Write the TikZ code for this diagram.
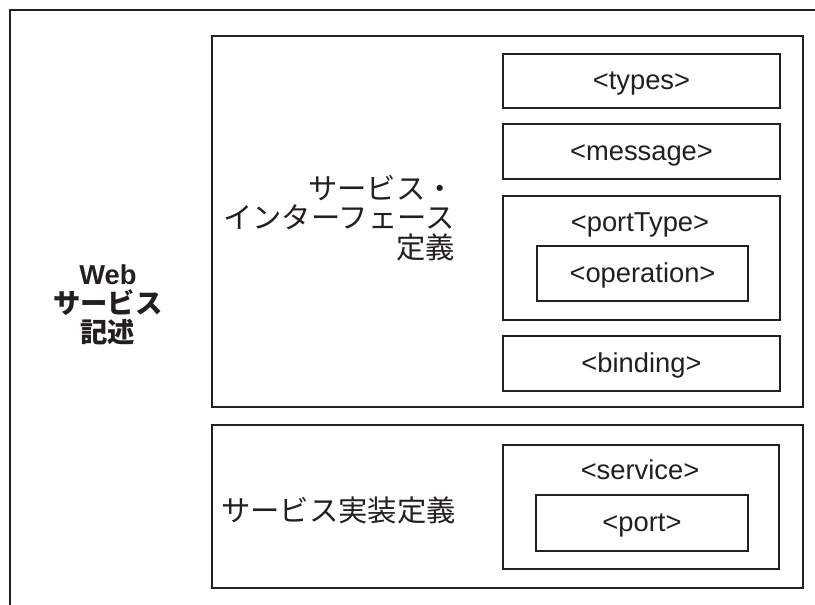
\documentclass[tikz,border=0pt]{standalone}
\usepackage{fontspec}
\setmainfont{Liberation Sans}
\newfontfamily\jpfont{Noto Sans CJK JP}
\usepackage{tikz}
\usetikzlibrary{fit}
\definecolor{inkc}{HTML}{231F20}
\newcommand\tightlines{\lineskiplimit=-20pt\relax}
\tikzset{%
	frame/.style={
		draw=inkc,
		line width=1.3pt,
		inner sep=0pt
	},
	tag/.style={
		text=inkc,
		inner sep=0pt,
		text height=13pt,
		text depth=0pt,
		font=\fontsize{20.5}{24}\selectfont
	},
	jplabel/.style={
		text=inkc,
		inner sep=0pt,
		font=\jpfont\fontsize{22}{22}\selectfont\tightlines
	},
}

\begin{document}
\begin{tikzpicture}[x=0.75pt, y=-0.75pt]
			\useasboundingbox (0,0) rectangle (815,605);
			
			% Outer frame (cut off at right and bottom)
			\draw[frame] (10,605) -- (10,10) -- (815,10);
			\node[text=inkc, align=center, inner sep=0pt, font=\bfseries\fontsize{20.5}{21.8}\selectfont\tightlines] (websvc) at (108,305) {Web\\{\jpfont サービス}\\{\jpfont 記述}};
			
			% Interface definition part
			\node[frame, fit={(212,36) (803,407)}] (ifdef) {};
			\node[jplabel, align=right, anchor=east] (ifdeflbl) at (455,218) {サービス・\\インターフェース\\定義};
			\node[frame, fit={(503,54) (780,108)}] (types) {};
			\node[tag] (typeslbl) at (types.center) {<types>};
			\node[frame, fit={(503,124) (780,179)}] (message) {};
			\node[tag] (messagelbl) at (message.center) {<message>};
			\node[frame, fit={(503,196) (780,320)}] (porttype) {};
			\node[tag] (porttypelbl) at (640,223) {<portType>};
			\node[frame, fit={(537,246) (748,301)}] (operation) {};
			\node[tag] (operationlbl) at (operation.center) {<operation>};
			\node[frame, fit={(503,336) (780,391)}] (binding) {};
			\node[tag] (bindinglbl) at (binding.center) {<binding>};
			
			% Implementation definition part
			\node[frame, fit={(212,425) (803,588)}] (impldef) {};
			\node[jplabel, anchor=west] (impldeflbl) at (221,510) {サービス実装定義};
			\node[frame, fit={(503,445) (779,569)}] (service) {};
			\node[tag] (servicelbl) at (640,471) {<service>};
			\node[frame, fit={(536,495) (748,551)}] (port) {};
			\node[tag] (portlbl) at (port.center) {<port>};
		\end{tikzpicture}
\end{document}
